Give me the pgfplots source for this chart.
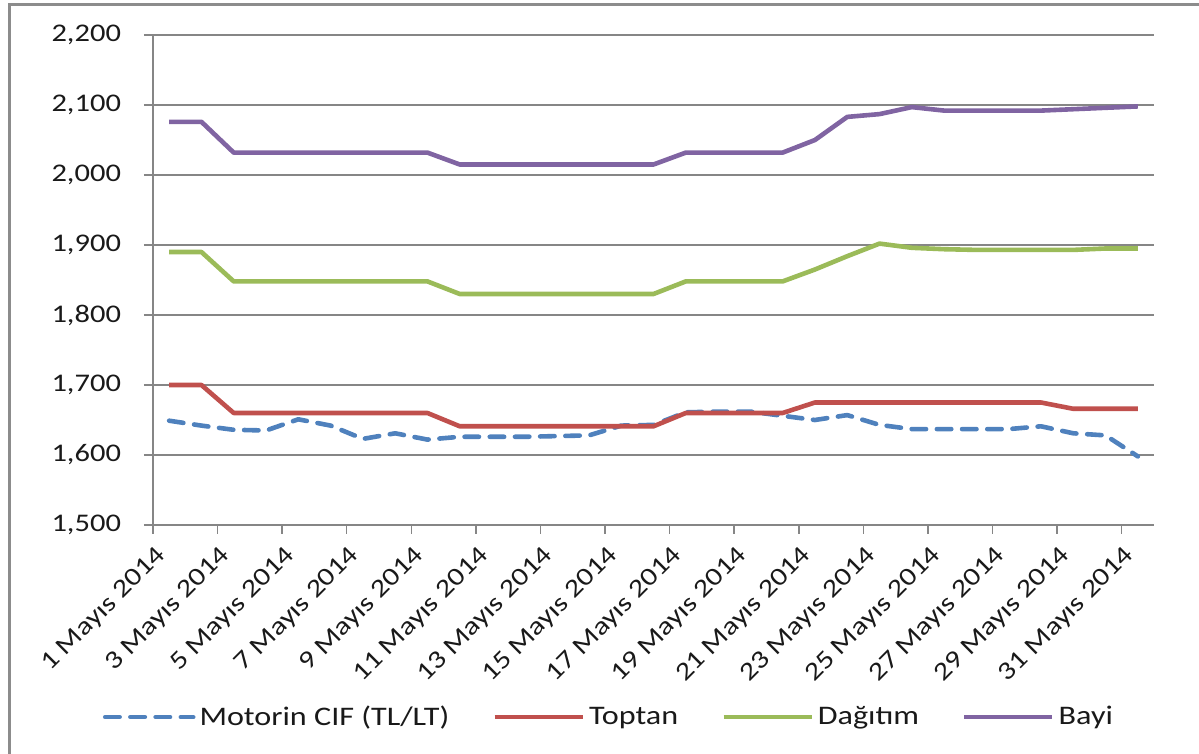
\documentclass[border=0pt]{standalone}
\usepackage{fontspec}
\setmainfont{Carlito}[FakeStretch=1.2]
\usepackage{pgfplots}
\pgfplotsset{compat=1.18}
\definecolor{cifblue}{HTML}{4F81BD}
\definecolor{topred}{HTML}{C0504D}
\definecolor{dagreen}{HTML}{9BBB59}
\definecolor{bayipurple}{HTML}{8064A2}
\definecolor{gridgray}{HTML}{868686}
\definecolor{framegray}{HTML}{8C8C8C}
\newcommand{\chartfont}{\fontsize{12.7}{15}\selectfont}
\newcommand{\legfont}{\fontsize{13.4}{16}\selectfont}
\begin{document}
\begin{tikzpicture}[x=1pt,y=1pt]
\path[use as bounding box] (0,0) rectangle (599.5,377);
\draw[line width=1.5pt, color=framegray] (4.5,0) -- (4.5,374.5) -- (599.5,374.5);
\begin{axis}[
  at={(76.5pt,114.5pt)}, anchor=south west,
  scale only axis, width=500.5pt, height=245pt,
  xmin=0.5, xmax=31.5, ymin=1500, ymax=2200,
  ytick={1500,1600,...,2200},
  ymajorgrids,
  grid style={color=gridgray, line width=0.75pt},
  axis x line*=bottom, axis y line*=left,
  axis line style={gridgray, line width=0.75pt, -},
  tick style={gridgray, line width=0.75pt},
  tick align=outside, major tick length=4.5pt,
  xtick={0.5,2.5,...,30.5}, xticklabels={},
  extra x ticks={1,3,...,31},
  extra x tick labels={1 Mayıs 2014,3 Mayıs 2014,5 Mayıs 2014,7 Mayıs 2014,9 Mayıs 2014,11 Mayıs 2014,13 Mayıs 2014,15 Mayıs 2014,17 Mayıs 2014,19 Mayıs 2014,21 Mayıs 2014,23 Mayıs 2014,25 Mayıs 2014,27 Mayıs 2014,29 Mayıs 2014,31 Mayıs 2014},
  extra x tick style={major tick length=0pt, xticklabel style={yshift=-17pt, xshift=3pt, rotate=45, anchor=south east, font=\chartfont, text=black!90, inner sep=2pt}},
  yticklabel style={font=\chartfont, text=black!90, xshift=-8pt, /pgf/number format/1000 sep={,}, /pgf/number format/assume math mode=true},
  legend style={at={(0.4565,-0.392)}, anchor=center, draw=none, legend columns=4, font=\legfont, text=black!90,
    /tikz/every even column/.append style={column sep=19.5pt}},
  legend image code/.code={\draw[#1] (0pt,0pt) -- (44pt,0pt);},
  every axis plot/.append style={line width=2.3pt, line join=round},
]
\addplot[cifblue, line cap=round, dash pattern=on 7.2pt off 5.4pt] coordinates {
(1,1649)(2,1642)(3,1636)(4,1635)(5,1651)(6,1642)(7,1623)(8,1631)(9,1622)(10,1626)
(11,1626)(12,1626)(13,1627)(14,1628)(15,1642)(16,1643)(17,1661)(18,1662)(19,1662)(20,1656)
(21,1650)(22,1657)(23,1643)(24,1637)(25,1637)(26,1637)(27,1637)(28,1641)(29,1631)(30,1628)(31,1598)};
\addlegendentry{Motorin CIF (TL/LT)}
\addplot[topred] coordinates {
(1,1700)(2,1700)(3,1660)(4,1660)(5,1660)(6,1660)(7,1660)(8,1660)(9,1660)(10,1641)
(11,1641)(12,1641)(13,1641)(14,1641)(15,1641)(16,1641)(17,1660)(18,1660)(19,1660)(20,1660)
(21,1675)(22,1675)(23,1675)(24,1675)(25,1675)(26,1675)(27,1675)(28,1675)(29,1666)(30,1666)(31,1666)};
\addlegendentry{Toptan}
\addplot[dagreen] coordinates {
(1,1890)(2,1890)(3,1848)(4,1848)(5,1848)(6,1848)(7,1848)(8,1848)(9,1848)(10,1830)
(11,1830)(12,1830)(13,1830)(14,1830)(15,1830)(16,1830)(17,1848)(18,1848)(19,1848)(20,1848)
(21,1865)(22,1884)(23,1902)(24,1896)(25,1894)(26,1893)(27,1893)(28,1893)(29,1893)(30,1895)(31,1895)};
\addlegendentry{Dağıtım}
\addplot[bayipurple] coordinates {
(1,2076)(2,2076)(3,2032)(4,2032)(5,2032)(6,2032)(7,2032)(8,2032)(9,2032)(10,2015)
(11,2015)(12,2015)(13,2015)(14,2015)(15,2015)(16,2015)(17,2032)(18,2032)(19,2032)(20,2032)
(21,2050)(22,2083)(23,2087)(24,2097)(25,2092)(26,2092)(27,2092)(28,2092)(29,2094)(30,2096)(31,2098)};
\addlegendentry{Bayi}
\end{axis}
\end{tikzpicture}
\end{document}
